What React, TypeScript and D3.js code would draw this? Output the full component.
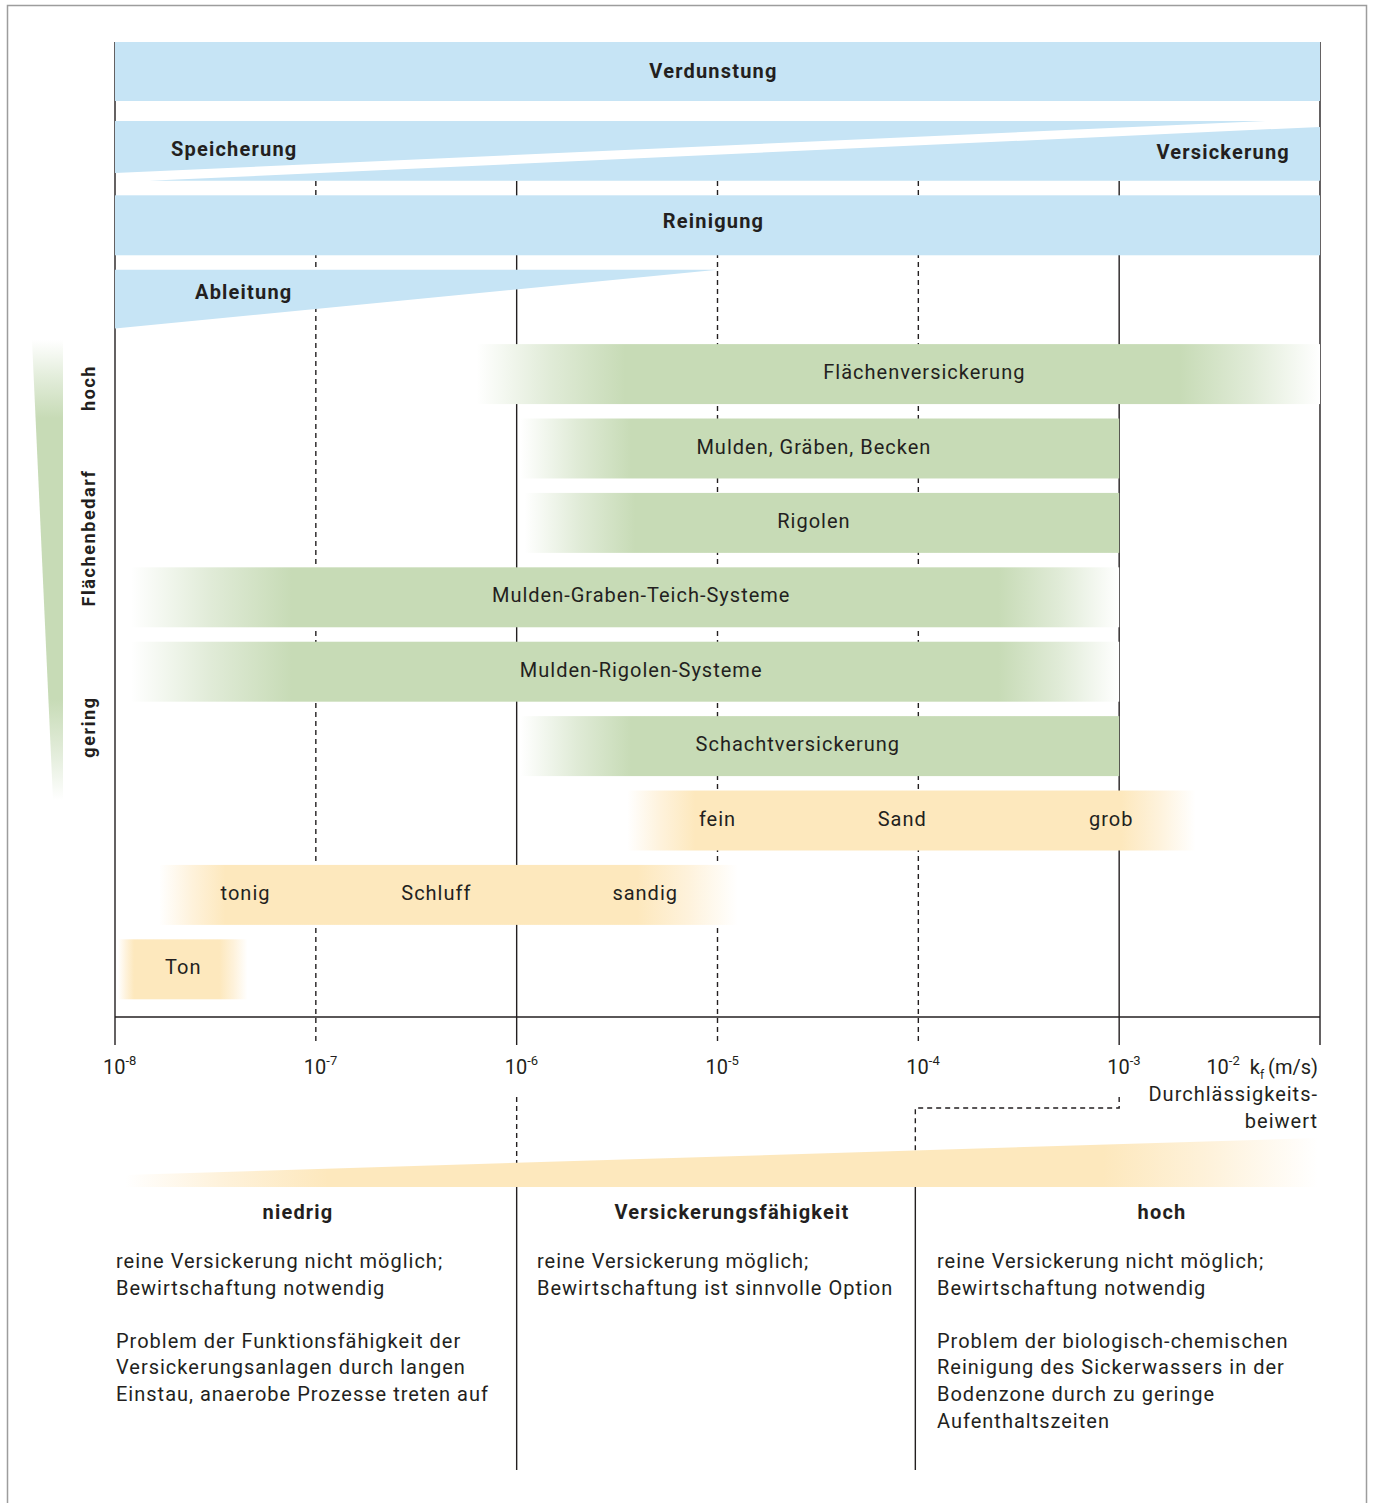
import React, { useEffect, useRef } from 'react';
import * as d3 from 'd3';

// k_f decades (log10 of m/s)
const decades = [-8, -7, -6, -5, -4, -3, -2];
const dashedDecades = [-7, -5, -4];

// rows from top to bottom
const rowNames = [
  'Verdunstung', 'Speicherung/Versickerung', 'Reinigung', 'Ableitung',
  'Flächenversickerung', 'Mulden, Gräben, Becken', 'Rigolen',
  'Mulden-Graben-Teich-Systeme', 'Mulden-Rigolen-Systeme', 'Schachtversickerung',
  'Sand', 'Schluff', 'Ton',
];

// blue process bands
const fullBands = ['Verdunstung', 'Reinigung'];
const storageLabel = 'Speicherung';
const seepageLabel = 'Versickerung';
const storageTipExp = -2.27;
const seepageTipExp = -7.83;
const drainageLabel = 'Ableitung';
const drainageTipExp = -5;

// green measures (exponents of k_f)
const measures = ['Flächenversickerung', 'Mulden, Gräben, Becken', 'Rigolen', 'Mulden-Graben-Teich-Systeme', 'Mulden-Rigolen-Systeme', 'Schachtversickerung'];
const measureFrom = [-6.2, -5.98, -5.96, -7.92, -7.92, -5.98];
const measureTo = [-2, -3, -3, -3, -3, -3];
const measureFadeIn = [0.74, 0.55, 0.55, 0.8, 0.8, 0.55];
const measureFadeOut = [0.7, 0, 0, 0.6, 0.6, 0];
const measureLabelAt = [-3.97, -4.52, -4.52, -5.38, -5.38, -4.6];

// soil types
const soils = ['Sand', 'Schluff', 'Ton'];
const soilFrom = [-5.45, -7.78, -7.985];
const soilTo = [-2.62, -4.9, -7.34];
const soilFadeIn = [0.34, 0.33, 0.08];
const soilFadeOut = [0.37, 0.5, 0.14];
const soilLabels = [['fein', 'Sand', 'grob'], ['tonig', 'Schluff', 'sandig'], ['Ton']];
const soilLabelAt = [[-5.0, -4.08, -3.04], [-7.35, -6.4, -5.36], [-7.66]];

// Flächenbedarf axis
const areaLabels = ['hoch', 'Flächenbedarf', 'gering'];

// Versickerungsfähigkeit
const capacityRange = [-7.95, -2];
const capacityBreaks = [-6, -4];
const capacityHeads = ['niedrig', 'Versickerungsfähigkeit', 'hoch'];
const capacityText = [
  ['reine Versickerung nicht möglich;', 'Bewirtschaftung notwendig', '', 'Problem der Funktionsfähigkeit der', 'Versickerungsanlagen durch langen', 'Einstau, anaerobe Prozesse treten auf'],
  ['reine Versickerung möglich;', 'Bewirtschaftung ist sinnvolle Option'],
  ['reine Versickerung nicht möglich;', 'Bewirtschaftung notwendig', '', 'Problem der biologisch-chemischen', 'Reinigung des Sickerwassers in der', 'Bodenzone durch zu geringe', 'Aufenthaltszeiten'],
];

const BLUE = '#c6e4f5';
const GREEN = '#c7dbb6';
const ORANGE = '#fde8bd';
const INK = '#231f20';
const FONT = 'Roboto, "Noto Sans", sans-serif';

const W = 1373;
const H = 1503;

const App = () => {
  const svgRef = useRef<SVGSVGElement>(null);

  useEffect(() => {
    const svg = d3.select(svgRef.current);
    svg.selectAll('*').remove();

    const plotTop = 42;
    const axisY = 1017;
    const tickEnd = 1045;

    const x = d3.scaleLog().domain([1e-8, 1e-2]).range([115, 1320]);
    const xe = (e: number) => x(Math.pow(10, e));
    const y = d3.scaleBand().domain(rowNames).range([46.5, 999.3]).paddingInner(0.194).paddingOuter(0);
    const bh = y.bandwidth();
    const rowTop = (name: string) => (name === rowNames[0] ? plotTop : (y(name) as number));

    svg.attr('width', W).attr('height', H)
      .style('font-family', FONT);

    const defs = svg.append('defs');

    // outer frame
    svg.append('rect')
      .attr('x', 7.5).attr('y', 5.5).attr('width', 1359).attr('height', 1600)
      .attr('fill', 'none').attr('stroke', '#9d9d9d').attr('stroke-width', 1.5);

    // grid lines
    const grid = svg.append('g').attr('stroke', INK).attr('stroke-width', 1.4);
    decades.forEach(d => {
      const edge = d === -8 || d === -2;
      grid.append('line')
        .attr('x1', xe(d)).attr('x2', xe(d))
        .attr('y1', edge ? plotTop : 181).attr('y2', tickEnd)
        .attr('stroke-dasharray', dashedDecades.includes(d) ? '5,4' : null);
    });
    grid.append('line').attr('x1', xe(-8)).attr('x2', xe(-2)).attr('y1', axisY).attr('y2', axisY);

    // lower bracket lines
    grid.append('path')
      .attr('d', `M${xe(-6)},1097 V1187`)
      .attr('fill', 'none').attr('stroke-dasharray', '5,4');
    grid.append('path')
      .attr('d', `M${xe(-3)},1097 V1108 H${xe(-4) - 3} V1187`)
      .attr('fill', 'none').attr('stroke-dasharray', '5,4');
    capacityBreaks.forEach((d, i) => {
      grid.append('line')
        .attr('x1', xe(d) - (i === 1 ? 3 : 0)).attr('x2', xe(d) - (i === 1 ? 3 : 0))
        .attr('y1', 1187).attr('y2', 1470);
    });

    // blue bands
    const blue = svg.append('g').attr('fill', BLUE);
    fullBands.forEach(name => {
      blue.append('rect')
        .attr('x', xe(-8)).attr('y', rowTop(name))
        .attr('width', xe(-2) - xe(-8)).attr('height', name === rowNames[0] ? 59 : bh);
    });
    const sy = rowTop(rowNames[1]);
    blue.append('path')
      .attr('d', `M${xe(-8)},${sy} H${xe(storageTipExp)} L${xe(-8)},${sy + bh * 0.87} Z`);
    blue.append('path')
      .attr('d', `M${xe(seepageTipExp)},${sy + bh} L${xe(-2)},${sy + bh * 0.1} V${sy + bh} Z`);
    const dy0 = rowTop(drainageLabel);
    blue.append('path')
      .attr('d', `M${xe(-8)},${dy0} H${xe(drainageTipExp)} L${xe(-8)},${dy0 + bh * 0.98} Z`);

    const bold = svg.append('g')
      .attr('fill', INK).style('font-weight', 700).style('font-size', '20px').style('letter-spacing', '1.2px');
    fullBands.forEach(name => {
      bold.append('text')
        .attr('x', (xe(-8) + xe(-2)) / 2 - 4).attr('y', rowTop(name) + (name === rowNames[0] ? 29 : 26))
        .attr('dy', '0.35em').attr('text-anchor', 'middle').text(name);
    });
    bold.append('text').attr('x', 171).attr('y', sy + 28).attr('dy', '0.35em').text(storageLabel);
    bold.append('text').attr('x', 1290).attr('y', sy + 31).attr('dy', '0.35em').attr('text-anchor', 'end').text(seepageLabel);
    bold.append('text').attr('x', 195).attr('y', dy0 + 22).attr('dy', '0.35em').text(drainageLabel);

    // faded bar helper
    const fadedBar = (id: string, from: number, to: number, fin: number, fout: number, top: number, color: string) => {
      const x0 = xe(from);
      const x1 = xe(to);
      const g = defs.append('linearGradient').attr('id', id)
        .attr('gradientUnits', 'userSpaceOnUse')
        .attr('x1', x0).attr('x2', x1).attr('y1', 0).attr('y2', 0);
      const span = to - from;
      const a = fin / span;
      const b = 1 - fout / span;
      const mix = d3.interpolateRgb('#ffffff', color);
      g.append('stop').attr('offset', 0).attr('stop-color', fin > 0 ? '#ffffff' : color);
      if (fin > 0) {
        g.append('stop').attr('offset', a * 0.5).attr('stop-color', mix(0.55));
        g.append('stop').attr('offset', a).attr('stop-color', color);
      }
      g.append('stop').attr('offset', b).attr('stop-color', color);
      if (fout > 0) {
        g.append('stop').attr('offset', b + (1 - b) * 0.5).attr('stop-color', mix(0.55));
      }
      g.append('stop').attr('offset', 1).attr('stop-color', fout > 0 ? '#ffffff' : color);
      svg.append('rect')
        .attr('x', x0).attr('y', top).attr('width', x1 - x0).attr('height', bh)
        .attr('fill', `url(#${id})`);
    };

    const regular = (sel: d3.Selection<any, any, any, any>) =>
      sel.attr('fill', INK).style('font-size', '20px').style('letter-spacing', '1px');

    measures.forEach((m, i) => {
      fadedBar(`m${i}`, measureFrom[i], measureTo[i], measureFadeIn[i], measureFadeOut[i], rowTop(m), GREEN);
      regular(svg.append('text'))
        .attr('x', xe(measureLabelAt[i])).attr('y', rowTop(m) + 28).attr('dy', '0.35em')
        .attr('text-anchor', 'middle').text(m);
    });

    soils.forEach((s, i) => {
      fadedBar(`s${i}`, soilFrom[i], soilTo[i], soilFadeIn[i], soilFadeOut[i], rowTop(s), ORANGE);
      soilLabels[i].forEach((lab, j) => {
        regular(svg.append('text'))
          .attr('x', xe(soilLabelAt[i][j])).attr('y', rowTop(s) + 28).attr('dy', '0.35em')
          .attr('text-anchor', 'middle').text(lab);
      });
    });

    // Flächenbedarf wedge
    const ag = defs.append('linearGradient').attr('id', 'area')
      .attr('gradientUnits', 'userSpaceOnUse').attr('x1', 0).attr('x2', 0).attr('y1', 340).attr('y2', 800);
    [[0, '#ffffff'], [0.08, d3.interpolateRgb('#ffffff', GREEN)(0.5)], [0.17, GREEN], [0.78, GREEN], [0.9, d3.interpolateRgb('#ffffff', GREEN)(0.5)], [1, '#ffffff']]
      .forEach(([o, c]) => ag.append('stop').attr('offset', o).attr('stop-color', c as string));
    svg.append('path').attr('d', 'M32,340 H63 V800 H53 Z').attr('fill', 'url(#area)');
    const areaY = [388, 538, 727];
    areaLabels.forEach((lab, i) => {
      svg.append('text')
        .attr('transform', `translate(89,${areaY[i]}) rotate(-90)`)
        .attr('dy', '0.35em').attr('text-anchor', 'middle')
        .attr('fill', INK).style('font-weight', 700).style('font-size', '18px').style('letter-spacing', '1.6px')
        .text(lab);
    });

    // tick labels
    decades.slice(0, -1).forEach(d => {
      const t = svg.append('text')
        .attr('x', xe(d) - 12).attr('y', 1074)
        .attr('fill', INK).style('font-size', '20px');
      t.append('tspan').text('10');
      t.append('tspan').attr('dy', -9).style('font-size', '13px').text(`-${-d}`);
    });
    const last = svg.append('text')
      .attr('x', xe(-2) - 2).attr('y', 1074).attr('text-anchor', 'end')
      .attr('fill', INK).style('font-size', '20px');
    last.append('tspan').text('10');
    last.append('tspan').attr('dy', -9).style('font-size', '13px').text('-2');
    last.append('tspan').attr('dy', 9).attr('dx', 10).text('k');
    last.append('tspan').attr('dy', 5).style('font-size', '12px').text('f');
    last.append('tspan').attr('dy', -5).attr('dx', 4).text('(m/s)');
    ['Durchlässigkeits-', 'beiwert'].forEach((l, i) => {
      regular(svg.append('text'))
        .attr('x', xe(-2) - 2).attr('y', 1101 + i * 27).attr('text-anchor', 'end').text(l);
    });

    // Versickerungsfähigkeit wedge
    const cx0 = xe(capacityRange[0]);
    const cx1 = xe(capacityRange[1]) - 2;
    const cg = defs.append('linearGradient').attr('id', 'cap')
      .attr('gradientUnits', 'userSpaceOnUse').attr('x1', cx0).attr('x2', cx1).attr('y1', 0).attr('y2', 0);
    const cmix = d3.interpolateRgb('#ffffff', ORANGE);
    [[0, '#ffffff'], [0.08, cmix(0.55)], [0.17, ORANGE], [0.82, ORANGE], [0.91, cmix(0.55)], [1, '#ffffff']]
      .forEach(([o, c]) => cg.append('stop').attr('offset', o).attr('stop-color', c as string));
    svg.append('path')
      .attr('d', `M${cx0},1175 L${cx1},1138 V1187 H${cx0} Z`)
      .attr('fill', 'url(#cap)');

    const headX = [298, 732, 1162];
    capacityHeads.forEach((h, i) => {
      bold.append('text')
        .attr('x', headX[i]).attr('y', 1219).attr('text-anchor', 'middle').text(h);
    });
    const colX = [116, 537, 937];
    capacityText.forEach((lines, i) => {
      lines.forEach((l, j) => {
        if (!l) return;
        regular(svg.append('text'))
          .attr('x', colX[i]).attr('y', 1268 + j * 26.6).text(l);
      });
    });
  }, []);

  return (
    <div style={{ position: 'absolute', left: 0, top: 0, background: '#fff' }}>
      <svg ref={svgRef}></svg>
    </div>
  );
};

export default App;
